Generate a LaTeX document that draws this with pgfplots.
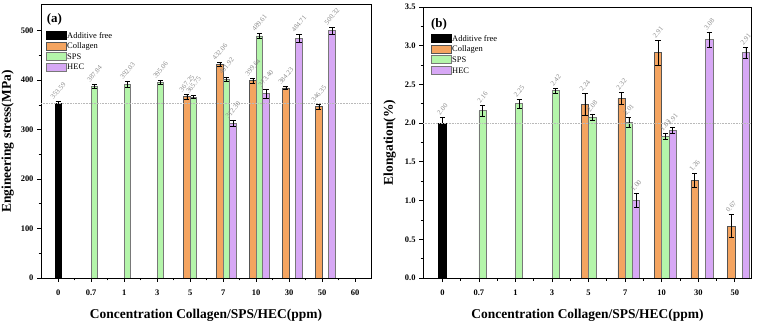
\documentclass[border=0pt]{standalone}
\usepackage{pgfplots}
\usepackage{pgfplotstable}
\usepackage{graphicx}
\pgfplotsset{compat=1.18}
\usepackage{fontspec}
\setmainfont{Liberation Serif}
\newfontfamily\bfserif{Liberation Serif Bold}

\definecolor{colC}{RGB}{244,164,96}
\definecolor{colS}{RGB}{180,245,170}
\definecolor{colH}{RGB}{215,168,245}
\definecolor{labgray}{RGB}{140,140,140}
\definecolor{edgegray}{RGB}{120,120,120}

% panel (a) data: x index, value, error, label
\pgfplotstableread{
x y e l
0 353.59 4 353.59
}\afA
\pgfplotstableread{
x y e l
4 367.25 5 367.25
5 432.06 4 432.06
6 399.64 5 399.64
7 384.23 3 384.23
8 346.35 5 346.35
}\colA
\pgfplotstableread{
x y e l
1 387.84 4 387.84
2 392.03 6 392.03
3 395.06 4 395.06
4 365.75 3 365.75
5 401.92 5 401.92
6 489.61 5 489.61
}\spsA
\pgfplotstableread{
x y e l
5 312.30 6 312.30
6 373.40 9 373.40
7 484.71 8 484.71
8 500.32 7 500.32
}\hecA

% panel (b) data
\pgfplotstableread{
x y e l
0 2.00 0.08 2.00
}\afB
\pgfplotstableread{
x y e l
4 2.24 0.14 2.24
5 2.32 0.08 2.32
6 2.91 0.16 2.91
7 1.26 0.09 1.26
8 0.67 0.15 0.67
}\colB
\pgfplotstableread{
x y e l
1 2.16 0.07 2.16
2 2.25 0.06 2.25
3 2.42 0.03 2.42
4 2.08 0.04 2.08
5 2.01 0.06 2.01
6 1.83 0.04 1.83
}\spsB
\pgfplotstableread{
x y e l
5 1.00 0.09 1.00
6 1.91 0.04 1.91
7 3.08 0.10 3.08
8 2.91 0.07 2.91
}\hecB

\pgfplotsset{
  panel/.style={
    scale only axis,
    anchor=south west,
    width=330bp,
    tick align=outside,
    tick pos=left,
    major tick length=4bp,
    minor tick length=2.5bp,
    minor x tick num=1,
    minor y tick num=1,
    axis line style={line width=1bp},
    every tick/.style={black, line width=0.8bp},
    /pgf/number format/assume math mode=true,
    every tick label/.append style={font=\bfserif\fontsize{8.5}{9}\selectfont},
    every x tick label/.append style={yshift=-4.5bp},
    every axis x label/.style={at={(rel axis cs:0.5,0)}, anchor=north, yshift=-31bp, inner sep=0pt,
      font=\bfserif\fontsize{13.5}{14}\selectfont},
    every axis y label/.style={at={(rel axis cs:0,0.5)}, xshift=-27bp, rotate=90, anchor=south, inner sep=0pt,
      font=\bfserif\fontsize{13.5}{14}\selectfont},
    legend style={draw=none, fill=none, font=\fontsize{8.5}{9}\selectfont, row sep=1.5bp, inner sep=0pt,
      legend cell align=left,
      nodes={inner sep=0.5bp, text height=6bp, text depth=1.5bp}},
    legend image code/.code={\draw[#1] (0bp,-3.5bp) rectangle (20bp,4.5bp);},
  },
  bars/.style={ybar, bar width=0.2, bar shift=0, draw=edgegray, line width=0.6bp,
    error bars/y dir=both, error bars/y explicit,
    error bars/error bar style={black, line width=0.5bp},
    error bars/error mark options={rotate=90, mark size=2.6bp, black, line width=0.5bp}},
  labs/.style={only marks, mark=none, forget plot, point meta=explicit symbolic,
    nodes near coords={\rotatebox{50}{\pgfplotspointmeta}},
    every node near coord/.style={font=\fontsize{7}{7}\selectfont, text=labgray, inner sep=0pt,
      anchor=south, yshift=1.5bp}},
}

\begin{document}
\begin{tikzpicture}
\useasboundingbox (0,0) rectangle (757bp,323bp);
% ---------------- panel (a)
\begin{axis}[panel, at={(41bp,45bp)}, height=273bp,
  xmin=-0.52, xmax=9.48, ymin=0, ymax=552,
  xtick={0,...,9}, xticklabels={0,0.7,1,3,5,7,10,30,50,60},
  ytick={0,100,...,500},
  xlabel={Concentration Collagen/SPS/HEC(ppm)},
  ylabel={Engineering stress(MPa)},
  legend style={at={(rel axis cs:0.015,0.905)}, anchor=north west},
]
\addplot[bars, fill=black, draw=black] table[x expr=\thisrow{x},y=y,y error=e]{\afA};
\addlegendentry{Additive free}
\addplot[bars, fill=colC, draw=edgegray!70!black] table[x expr=\thisrow{x}-0.1,y=y,y error=e]{\colA};
\addlegendentry{Collagen}
\addplot[bars, fill=colS] table[x expr=\thisrow{x}+0.1,y=y,y error=e]{\spsA};
\addlegendentry{SPS}
\addplot[bars, fill=colH] table[x expr=\thisrow{x}+0.3,y=y,y error=e]{\hecA};
\addlegendentry{HEC}
\addplot[forget plot, gray!55, densely dotted, line width=0.6bp] coordinates {(-0.52,353.59) (9.48,353.59)};
\addplot[labs] table[x expr=\thisrow{x}, y expr=\thisrow{y}+\thisrow{e}, meta=l]{\afA};
\addplot[labs] table[x expr=\thisrow{x}-0.1, y expr=\thisrow{y}+\thisrow{e}, meta=l]{\colA};
\addplot[labs] table[x expr=\thisrow{x}+0.1, y expr=\thisrow{y}+\thisrow{e}, meta=l]{\spsA};
\addplot[labs] table[x expr=\thisrow{x}+0.3, y expr=\thisrow{y}+\thisrow{e}, meta=l]{\hecA};
\node[font=\bfserif\fontsize{13}{14}\selectfont, anchor=north west, inner sep=0pt] at (rel axis cs:0.017,0.97) {(a)};
\end{axis}
% ---------------- panel (b)
\begin{axis}[panel, at={(423bp,45bp)}, height=271bp, width=329bp,
  xmin=-0.53, xmax=8.47, ymin=0, ymax=3.5,
  xtick={0,...,8}, xticklabels={0,0.7,1,3,5,7,10,30,50},
  ytick={0,0.5,...,3.5},
  yticklabel style={/pgf/number format/fixed, /pgf/number format/fixed zerofill, /pgf/number format/precision=1},
  xlabel={Concentration Collagen/SPS/HEC(ppm)},
  ylabel={Elongation(\%)},
  legend style={at={(rel axis cs:0.024,0.90)}, anchor=north west},
]
\addplot[bars, fill=black, draw=black] table[x expr=\thisrow{x},y=y,y error=e]{\afB};
\addlegendentry{Additive free}
\addplot[bars, fill=colC, draw=edgegray!70!black] table[x expr=\thisrow{x}-0.1,y=y,y error=e]{\colB};
\addlegendentry{Collagen}
\addplot[bars, fill=colS] table[x expr=\thisrow{x}+0.1,y=y,y error=e]{\spsB};
\addlegendentry{SPS}
\addplot[bars, fill=colH] table[x expr=\thisrow{x}+0.3,y=y,y error=e]{\hecB};
\addlegendentry{HEC}
\addplot[forget plot, gray!55, densely dotted, line width=0.6bp] coordinates {(-0.53,2.00) (8.47,2.00)};
\addplot[labs] table[x expr=\thisrow{x}, y expr=\thisrow{y}+\thisrow{e}, meta=l]{\afB};
\addplot[labs] table[x expr=\thisrow{x}-0.1, y expr=\thisrow{y}+\thisrow{e}, meta=l]{\colB};
\addplot[labs] table[x expr=\thisrow{x}+0.1, y expr=\thisrow{y}+\thisrow{e}, meta=l]{\spsB};
\addplot[labs] table[x expr=\thisrow{x}+0.3, y expr=\thisrow{y}+\thisrow{e}, meta=l]{\hecB};
\node[font=\bfserif\fontsize{13}{14}\selectfont, anchor=north west, inner sep=0pt] at (rel axis cs:0.024,0.96) {(b)};
\end{axis}
\end{tikzpicture}
\end{document}
